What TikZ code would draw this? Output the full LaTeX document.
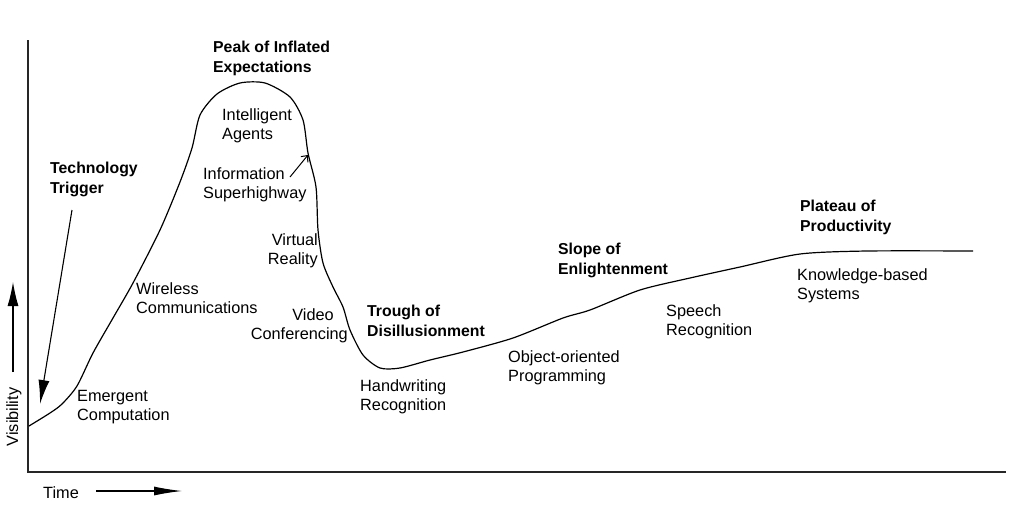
\documentclass[tikz,border=0pt]{standalone}
\usepackage{fontspec}
\setmainfont{Liberation Sans}
\usetikzlibrary{arrows.meta}
\begin{document}
\begin{tikzpicture}[x=1pt,y=-1pt,
  lbl/.style={font=\fontsize{16.3}{19.5}\selectfont, align=left, anchor=north west, inner sep=0pt},
  lblr/.style={lbl, align=right, anchor=north east},
  phase/.style={lbl, font=\fontsize{15.8}{19.5}\selectfont\bfseries},
  axis/.style={line width=1.6pt, black!85},
  curve/.style={line width=1.2pt, line join=round},
  bigarrow/.style={line width=1.1pt, -{Latex[length=24pt,width=11pt]}},
  smallarrow/.style={line width=1pt, -{Straight Barb[length=5pt,width=9pt]}}]
\useasboundingbox[fill=white] (0,0) rectangle (1026,517);

% axes
\coordinate (ytop) at (28,40);
\coordinate (orig) at (28,472);
\coordinate (xend) at (1006,472);
\draw[axis] (ytop) -- (orig) -- (xend);

% hype curve
\draw[curve] plot[smooth, tension=0.45] coordinates {
 (29,426) (50,413) (62,404) (77,386) (93,353) (113,318) (133,283) (160,230)
 (180,182) (192,148) (200,115) (217,94) (240,83) (265,83) (290,97) (303,120)
 (308,153) (316,187) (318,230) (323,263) (333,287) (343,307) (350,330)
 (363,355) (380,368) (400,368) (430,360) (463,352) (513,338) (563,318)
 (590,310) (640,290) (690,278) (740,267) (800,254) (867,251) (973,251)};

% phase labels
\node[phase] (trigger) at (50,162) {Technology\\Trigger};
\node[phase] (peak) at (213,41) {Peak of Inflated\\Expectations};
\node[phase] (trough) at (367,305) {Trough of\\Disillusionment};
\node[phase] (slope) at (558,243) {Slope of\\Enlightenment};
\node[phase] (plateau) at (800,200) {Plateau of\\Productivity};

% technology labels
\node[lbl] (intel) at (222,108) {Intelligent\\Agents};
\node[lbl] (info) at (203,167) {Information\\Superhighway};
\node[lblr] (vr) at (318,233) {Virtual\\Reality};
\node[lbl] (wireless) at (136,282) {Wireless\\Communications};
\node[lblr] (video) at (348,308) {Video\hspace*{14pt}\\Conferencing};
\node[lbl] (emergent) at (77,390) {Emergent\\Computation};
\node[lbl] (hand) at (360,379) {Handwriting\\Recognition};
\node[lbl] (oop) at (508,350) {Object-oriented\\Programming};
\node[lbl] (speech) at (666,304) {Speech\\Recognition};
\node[lbl] (kbs) at (797,268) {Knowledge-based\\Systems};

% axis titles
\node[lbl, anchor=center, rotate=90] (vis) at (14,417) {Visibility};
\node[lbl, anchor=west] (time) at (43,493) {Time};

% arrows
\coordinate (tt-a) at (72,210);
\coordinate (tt-b) at (40,404);
\draw[bigarrow] (tt-a) -- (tt-b);
\coordinate (is-a) at (290,177);
\coordinate (is-b) at (308,155);
\draw[smallarrow] (is-a) -- (is-b);
\coordinate (vis-a) at (13,372);
\coordinate (vis-b) at (13,282);
\draw[bigarrow] (vis-a) -- (vis-b);
\coordinate (time-a) at (96,491);
\coordinate (time-b) at (182,491);
\draw[bigarrow, -{Latex[length=28pt,width=9pt]}] (time-a) -- (time-b);
\end{tikzpicture}
\end{document}
